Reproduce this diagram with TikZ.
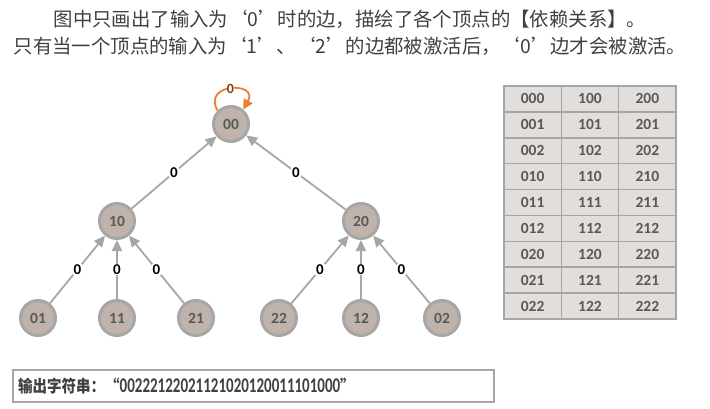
\documentclass[tikz,border=0pt]{standalone}
\usepackage{fontspec}
\setmainfont{Carlito}
\newfontfamily\cjk{Noto Sans CJK SC}
\usetikzlibrary{arrows.meta}

\definecolor{edgegray}{HTML}{A6A6A6}
\definecolor{nodefill}{HTML}{BFB3AB}
\definecolor{labelgray}{HTML}{595959}
\definecolor{titlegray}{HTML}{404040}
\definecolor{cellfill}{HTML}{E2DEDC}
\definecolor{loopcol}{HTML}{ED7D31}
\definecolor{loopdark}{HTML}{843C0C}

\begin{document}
\begin{tikzpicture}[x=1pt,y=-1pt,
  vertex/.style={circle, draw=edgegray, line width=3pt, fill=nodefill,
    minimum size=35pt, inner sep=0pt, text=labelgray,
    font=\bfseries\fontsize{15.5}{15.5}\selectfont},
  dep/.style={draw=edgegray, line width=1.8pt,
    -{Triangle[length=11pt,width=10pt]}},
  elabel/.style={fill=white, inner sep=1pt, text=black,
    font=\bfseries\fontsize{15}{15}\selectfont},
  cell/.style={draw=edgegray, line width=1.5pt, fill=cellfill,
    minimum width=57.33pt, minimum height=25.89pt, inner sep=0pt,
    text=labelgray, font=\bfseries\fontsize{15.5}{15.5}\selectfont},
  title/.style={text=titlegray, inner sep=0pt,
    font=\cjk\fontsize{19.4}{19.4}\selectfont}]

\useasboundingbox (0,0) rectangle (710,409);

% heading
\node[title] (t1) at (350,19) {图中只画出了输入为‘0’时的边，描绘了各个顶点的【依赖关系】。};
\node[title] (t2) at (350,46) {只有当一个顶点的输入为‘1’、‘2’的边都被激活后，‘0’边才会被激活。};

% vertices
\node[vertex] (n00) at (231,124) {00};
\node[vertex] (n10) at (117,221) {10};
\node[vertex] (n20) at (361,221) {20};
\node[vertex] (n01) at (38,318)  {01};
\node[vertex] (n11) at (117,318) {11};
\node[vertex] (n21) at (196,318) {21};
\node[vertex] (n22) at (279,318) {22};
\node[vertex] (n12) at (361,318) {12};
\node[vertex] (n02) at (442,318) {02};

% '0' edges
\draw[dep] (n10) -- node[elabel] {0} (n00);
\draw[dep] (n20) -- node[elabel] {0} (n00);
\draw[dep] (n01) -- node[elabel] {0} (n10);
\draw[dep] (n11) -- node[elabel] {0} (n10);
\draw[dep] (n21) -- node[elabel] {0} (n10);
\draw[dep] (n22) -- node[elabel] {0} (n20);
\draw[dep] (n12) -- node[elabel] {0} (n20);
\draw[dep] (n02) -- node[elabel] {0} (n20);

% self loop on 00
\draw[draw=loopcol, line width=1.8pt, -{Triangle[length=10pt,width=10pt]}]
  (n00.135) .. controls +(-16,-28) and +(16,-28) .. (n00.50)
  node[pos=0.5, fill=white, inner sep=0.3pt, text=loopdark,
       font=\bfseries\fontsize{14}{14}\selectfont] (looplabel) {0};

% table of all three-digit strings
\foreach \s [count=\r from 0] in {00,01,02,10,11,12,20,21,22} {
  \foreach \p [count=\c from 0] in {0,1,2} {
    \node[cell] (cell-\p\s) at ({532.67+57.33*\c},{98.95+25.89*\r}) {\p\s};
  }
}

% output string
\node[draw=edgegray, line width=1.5pt, fill=white, minimum width=481pt,
      minimum height=32pt, inner sep=0pt] (outbox) at (253.5,386) {};
\node[anchor=west, inner sep=0pt, text=titlegray] (outtext) at (18,386)
  {\scalebox{1}[1.15]{\cjk\bfseries\fontsize{14.5}{14.5}\selectfont 输出字符串：“}%
   \scalebox{1}[1.4]{\bfseries\fontsize{15}{15}\selectfont 00222122021121020120011101000}%
   \scalebox{1}[1.15]{\cjk\bfseries\fontsize{14.5}{14.5}\selectfont ”}};

\end{tikzpicture}
\end{document}
